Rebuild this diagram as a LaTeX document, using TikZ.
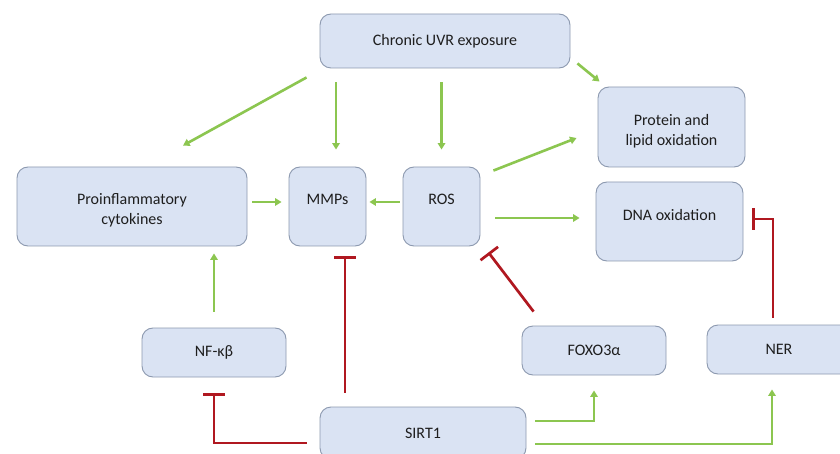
\documentclass[tikz,border=0pt]{standalone}
\usepackage{fontspec}
\setmainfont{Carlito}
\usetikzlibrary{arrows.meta,calc}
\definecolor{boxfill}{RGB}{218,227,243}
\definecolor{boxdraw}{RGB}{140,153,175}
\definecolor{agreen}{RGB}{140,198,80}
\definecolor{ired}{RGB}{176,24,32}
\definecolor{txt}{RGB}{30,30,30}
\begin{document}
\begin{tikzpicture}[x=1pt,y=-1pt,
  box/.style={draw=boxdraw,line width=0.9pt,fill=boxfill,rounded corners=11pt,
    inner sep=0pt,align=center,text=txt,font=\fontsize{16}{20}\selectfont},
  garrow/.style={draw=agreen,line width=2.6pt,-{Triangle[length=6.5pt,width=7.5pt]}},
  inhib/.style={draw=ired,line width=2.7pt,-{Bar[width=22pt]}}]
\useasboundingbox (0,0) rectangle (840,454);
\fill[white] (0,0) rectangle (840,454);
\begin{scope}
\clip (0,0) rectangle (840,454);
\node[box,minimum width=250pt,minimum height=54pt] (uvr) at (445,41) {Chronic UVR exposure};
\node[box,minimum width=147pt,minimum height=80pt] (prot) at (671.5,127) {\rule{0pt}{19pt}Protein and\\lipid oxidation};
\node[box,minimum width=147pt,minimum height=79pt] (dna) at (669.5,221.5) {DNA oxidation\\[-6.5pt]};
\node[box,minimum width=230pt,minimum height=79pt] (pc) at (132,206.5) {\rule{0pt}{19pt}Proinflammatory\\cytokines};
\node[box,minimum width=77pt,minimum height=79pt] (mmp) at (327.5,206.5) {MMPs\\[-6.5pt]};
\node[box,minimum width=77pt,minimum height=79pt] (ros) at (441.5,206.5) {ROS\\[-6.5pt]};
\node[box,minimum width=144pt,minimum height=49pt] (nf) at (214,352.5) {NF-κβ};
\node[box,minimum width=144pt,minimum height=49pt] (foxo) at (594,350.5) {FOXO3α};
\node[box,minimum width=144pt,minimum height=49pt] (ner) at (779,349.5) {NER};
\node[box,minimum width=206pt,minimum height=52pt] (sirt) at (423,433) {SIRT1};

% UVR arrows
\draw[garrow] ($(uvr.south west)+(-13,9)$) -- ($(pc.north)+(51,-21)$);
\draw[garrow,shorten <=14pt,shorten >=17pt] ([xshift=8.5pt]mmp.north |- uvr.south) -- ([xshift=8.5pt]mmp.north);
\draw[garrow,shorten <=14pt,shorten >=17pt] (ros.north |- uvr.south) -- (ros.north);
\draw[garrow] ($(uvr.south east)+(7,-5)$) -- ($(prot.north west)+(2,-5)$);
% ROS arrows
\draw[garrow] ($(ros.north east)+(13,4)$) -- ($(prot.west)+(-21,11)$);
\draw[garrow,shorten <=15pt,shorten >=16pt] ([yshift=-11.5pt]ros.east) -- ([yshift=-11.5pt]ros.east -| dna.west);
\draw[garrow,shorten <=3pt,shorten >=3pt] ([yshift=4.5pt]ros.west) -- ([yshift=4.5pt]ros.west -| mmp.east);
\draw[garrow,shorten <=5pt,shorten >=7pt] ([yshift=4.5pt]pc.east) -- ([yshift=4.5pt]pc.east -| mmp.west);
% NF-kB
\draw[garrow,shorten <=16pt,shorten >=7pt] (nf.north) -- (nf.north |- pc.south);
% SIRT1 inhibitions
\draw[inhib,shorten <=14pt,shorten >=10pt] ([xshift=17.5pt]mmp.south |- sirt.north) -- ([xshift=17.5pt]mmp.south);
\draw[inhib,shorten <=13pt,shorten >=16pt] ([yshift=-10pt]sirt.west) -| (nf.south);
% FOXO inhibits ROS
\draw[inhib] ($(foxo.north west)+(12,-14)$) -- ($(ros.south east)+(8,6)$);
% NER inhibits DNA oxidation
\draw[inhib,shorten <=7pt,shorten >=9pt] ([xshift=-6pt]ner.north) |- ([yshift=2.5pt]dna.east);
% SIRT1 activations
\draw[garrow,shorten <=9pt,shorten >=15pt] ([yshift=12pt]sirt.east) -| (foxo.south);
\draw[garrow,shorten <=9pt,shorten >=15pt] ([yshift=-11pt]sirt.east) -| ([xshift=-7pt]ner.south);
\end{scope}
\end{tikzpicture}
\end{document}
